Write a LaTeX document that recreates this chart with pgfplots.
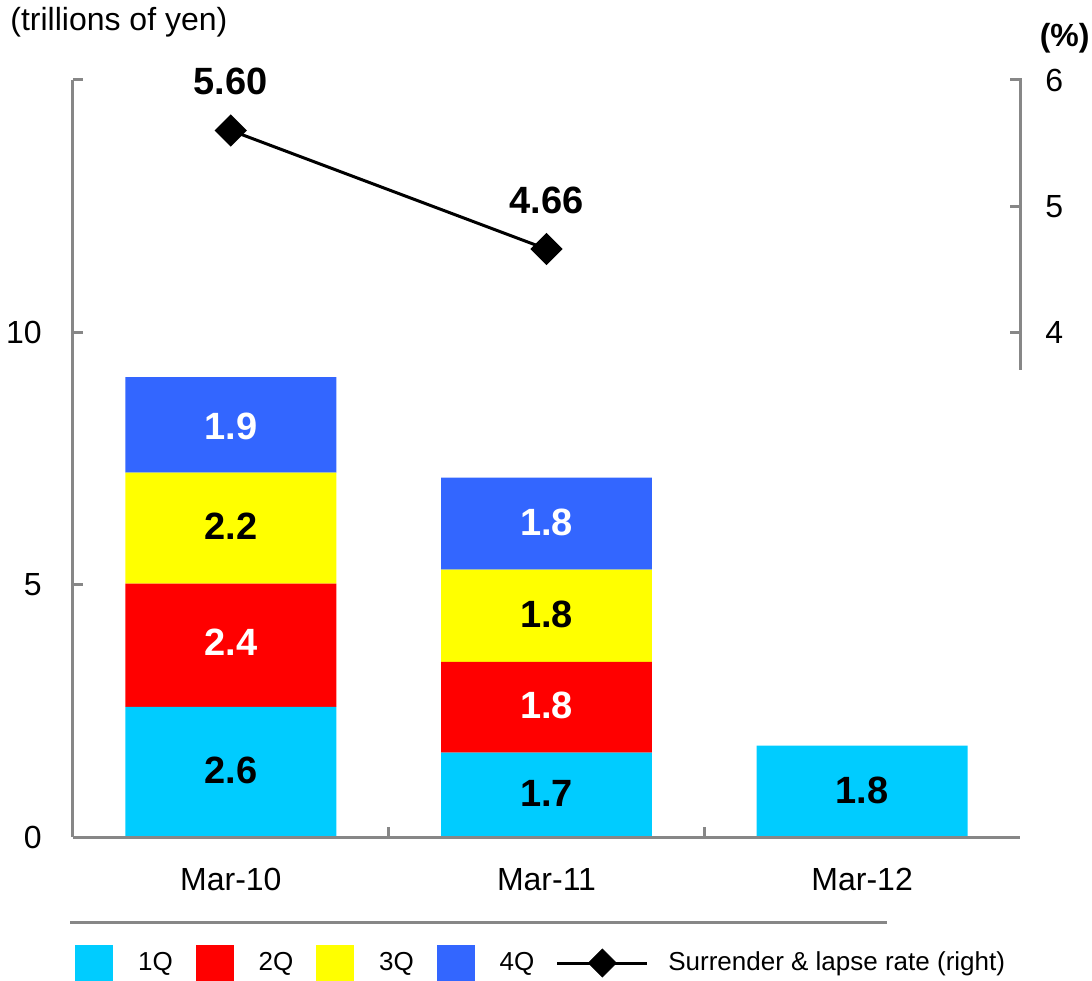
\documentclass[border=0pt]{standalone}
\usepackage{fontspec}
\setmainfont{Liberation Sans}
\usepackage{pgfplots}
\pgfplotsset{compat=1.18}

\definecolor{q1}{HTML}{00CCFF}
\definecolor{q2}{HTML}{FF0000}
\definecolor{q3}{HTML}{FFFF00}
\definecolor{q4}{HTML}{3366FF}
\definecolor{axgray}{HTML}{878787}

\pgfplotsset{
  base/.style={
    scale only axis, width=473.5pt, height=378.5pt,
    xmin=-0.5, xmax=2.5, clip=false,
    /pgf/number format/assume math mode=true,
    tick align=inside, major tick length=5pt, minor tick length=5pt,
    tick style={axgray, line width=1.5pt},
  },
}
\tikzset{lbl/.style={font=\fontsize{19}{22}\selectfont\bfseries, inner sep=0pt, anchor=center}}

\begin{document}
\begin{tikzpicture}[font=\fontsize{16}{19}\selectfont]
% stacked bars, left axis
\begin{axis}[base,
  ybar stacked, bar width=0.668,
  ymin=0, ymax=15,
  axis x line*=bottom, axis y line*=left,
  axis line style={axgray, line width=1.5pt},
  axis on top,
  ytick={0,5,10,15}, yticklabels={0,5,10,},
  yticklabel style={inner sep=0pt, xshift=-15.5pt},
  xtick={0.5,1.5}, xticklabels={},
  extra x ticks={0,1,2}, extra x tick labels={Mar-10,Mar-11,Mar-12},
  extra x tick style={major tick length=0pt, xticklabel style={inner sep=0pt, yshift=-15.5pt}},
]
\addplot[fill=q1, draw=none] coordinates {(0,2.58) (1,1.67) (2,1.81)};
\addplot[fill=q2, draw=none] coordinates {(0,2.44) (1,1.80) (2,0)};
\addplot[fill=q3, draw=none] coordinates {(0,2.20) (1,1.83) (2,0)};
\addplot[fill=q4, draw=none] coordinates {(0,1.89) (1,1.82) (2,0)};

\coordinate (bl) at (rel axis cs:0,0);
\coordinate (tr) at (rel axis cs:1,1);
\node[anchor=west, inner sep=0pt, xshift=-31.5pt, yshift=29pt] at (rel axis cs:0,1) {(trillions of yen)};
\draw[axgray, line width=1.5pt] (rel axis cs:-0.003,-0.1123) -- (rel axis cs:0.8596,-0.1123);
\end{axis}

% segment labels, same scale as the bars
\begin{axis}[base, ymin=0, ymax=15, hide axis]
\node[lbl, text=black] at (axis cs:0,1.31) {2.6};
\node[lbl, text=white] at (axis cs:0,3.85) {2.4};
\node[lbl, text=black] at (axis cs:0,6.15) {2.2};
\node[lbl, text=white] at (axis cs:0,8.13) {1.9};
\node[lbl, text=black] at (axis cs:1,0.86) {1.7};
\node[lbl, text=white] at (axis cs:1,2.60) {1.8};
\node[lbl, text=black] at (axis cs:1,4.42) {1.8};
\node[lbl, text=white] at (axis cs:1,6.23) {1.8};
\node[lbl, text=black] at (axis cs:2,0.93) {1.8};
\end{axis}

% rate line, right axis
\begin{axis}[base,
  ymin=0, ymax=6,
  axis x line=none, axis y line*=right,
  y axis line style={draw=none},
  ytick={4,5,6},
  yticklabel style={inner sep=0pt, xshift=12.5pt},
  legend columns=5,
  legend cell align=left,
  legend style={draw=none, fill=none, inner sep=0pt,
    at={(0,0)}, anchor=west, xshift=1pt, yshift=-63pt,
    nodes={inner sep=0pt, font=\fontsize{13}{15}\selectfont},
    /tikz/every odd column/.append style={column sep=12.5pt},
    /tikz/every even column/.append style={column sep=11.5pt}},
]
\draw[axgray, line width=1.5pt] (rel axis cs:1,1.002) -- (rel axis cs:1,0.6167);

\addlegendimage{legend image code/.code={\fill[q1] (0pt,-9pt) rectangle (18.5pt,9pt);}}
\addlegendentry{1Q}
\addlegendimage{legend image code/.code={\fill[q2] (0pt,-9pt) rectangle (18.5pt,9pt);}}
\addlegendentry{2Q}
\addlegendimage{legend image code/.code={\fill[q3] (0pt,-9pt) rectangle (18.5pt,9pt);}}
\addlegendentry{3Q}
\addlegendimage{legend image code/.code={\fill[q4] (0pt,-9pt) rectangle (18.5pt,9pt);}}
\addlegendentry{4Q}
\addlegendimage{legend image code/.code={%
  \path[draw=none, fill=none, use as bounding box] (0pt,-7pt) rectangle (43pt,7pt);
  \draw[black, line width=1.5pt] (0pt,0pt) -- (45pt,0pt);
  \fill[black] (22.5pt,7pt) -- (29.5pt,0pt) -- (22.5pt,-7pt) -- (15.5pt,0pt) -- cycle;}}
\addlegendentry{Surrender \& lapse rate (right)}

\addplot[black, line width=1.5pt, mark=square*, mark size=4.95pt,
  mark options={rotate=45, solid}, forget plot] coordinates {(0,5.60) (1,4.66)};
\node[lbl, yshift=24.5pt] at (axis cs:0,5.60) {5.60};
\node[lbl, yshift=24.5pt] at (axis cs:1,4.66) {4.66};

\node[anchor=east, inner sep=0pt, xshift=35pt, yshift=21pt,
  font=\fontsize{16}{19}\selectfont\bfseries] at (rel axis cs:1,1) {(\%)};
\end{axis}

\pgfresetboundingbox
\path ([shift={(-36.5pt,-71.5pt)}]bl) rectangle ([shift={(36pt,40pt)}]tr);
\end{tikzpicture}
\end{document}
